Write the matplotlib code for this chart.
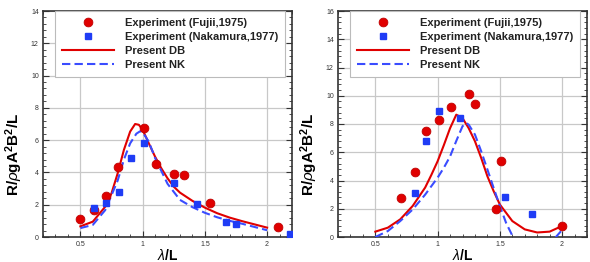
import numpy as np
import matplotlib
matplotlib.use("Agg")
import matplotlib.pyplot as plt
from matplotlib.ticker import MultipleLocator

plt.rcParams['font.family'] = ['Liberation Sans', 'DejaVu Sans']
plt.rcParams['mathtext.fontset'] = 'custom'
plt.rcParams['mathtext.rm'] = 'Liberation Sans:bold'
plt.rcParams['mathtext.it'] = 'Liberation Sans:italic'
plt.rcParams['mathtext.bf'] = 'Liberation Sans:bold'

# ---- left panel data ----
fujii_x_l = [0.50, 0.61, 0.71, 0.80, 1.01, 1.11, 1.25, 1.33, 1.54, 2.09]
fujii_y_l = [1.10, 1.65, 2.54, 4.34, 6.76, 4.50, 3.90, 3.82, 2.10, 0.62]
naka_x_l = [0.61, 0.71, 0.81, 0.91, 1.01, 1.25, 1.44, 1.67, 1.75, 2.18]
naka_y_l = [1.80, 2.13, 2.80, 4.90, 5.80, 3.33, 2.05, 0.93, 0.80, 0.20]
db_x_l = [0.50, 0.60, 0.70, 0.75, 0.80, 0.85, 0.90, 0.94, 0.97, 1.00, 1.05,
          1.10, 1.15, 1.20, 1.25, 1.30, 1.40, 1.50, 1.60, 1.70, 1.80, 1.90,
          2.00]
db_y_l = [0.66, 0.95, 1.88, 2.70, 3.95, 5.40, 6.53, 7.00, 6.95, 6.65, 5.80,
          4.98, 4.26, 3.64, 3.12, 2.75, 2.24, 1.82, 1.47, 1.20, 0.98, 0.78,
          0.58]
nk_x_l = [0.50, 0.60, 0.70, 0.80, 0.85, 0.90, 0.95, 0.98, 1.00, 1.05, 1.10,
          1.15, 1.20, 1.25, 1.30, 1.40, 1.50, 1.60, 1.70, 1.80, 1.90, 2.00]
nk_y_l = [0.55, 0.75, 1.67, 3.50, 4.80, 5.80, 6.40, 6.55, 6.50, 5.90, 4.90,
          4.10, 3.30, 2.80, 2.30, 1.85, 1.50, 1.22, 1.00, 0.82, 0.62, 0.42]

# ---- right panel data ----
fujii_x_r = [0.71, 0.82, 0.91, 1.01, 1.11, 1.25, 1.30, 1.51, 1.47, 2.00]
fujii_y_r = [2.78, 4.59, 7.53, 8.31, 9.22, 10.10, 9.39, 5.36, 1.98, 0.80]
naka_x_r = [0.82, 0.91, 1.01, 1.18, 1.54, 1.76]
naka_y_r = [3.08, 6.78, 8.94, 8.42, 2.80, 1.62]
db_x_r = [0.50, 0.60, 0.70, 0.80, 0.90, 0.95, 1.00, 1.05, 1.10, 1.15, 1.20,
          1.25, 1.30, 1.35, 1.40, 1.45, 1.50, 1.60, 1.70, 1.80, 1.90, 2.00]
db_y_r = [0.38, 0.66, 1.25, 2.20, 3.50, 4.40, 5.36, 6.50, 7.70, 8.66, 8.42,
          7.70, 6.78, 5.60, 4.30, 3.25, 2.30, 1.13, 0.54, 0.32, 0.38, 0.78]
nk_x_r = [0.50, 0.60, 0.70, 0.80, 0.90, 1.00, 1.05, 1.10, 1.15, 1.20, 1.23,
          1.25, 1.30, 1.35, 1.40, 1.45, 1.50, 1.55, 1.60, 1.65, 1.70, 1.80,
          1.90, 1.95, 2.00]
nk_y_r = [0.00, 0.42, 1.13, 1.95, 3.00, 4.20, 4.90, 5.70, 6.80, 7.84, 8.07,
          7.95, 7.25, 6.07, 4.78, 3.48, 2.20, 1.00, 0.10, -0.70, -1.30, -1.60,
          -0.80, 0.00, 0.50]

RED = "#e00000"
BLUE = "#1f3cf5"
LINE_BLUE = "#3a4cff"


def draw_panel(ax, fx, fy, nx, ny, dbx, dby, nkx, nky, ymax):
    """Draw one response panel in the Tecplot-like style."""
    ax.plot(dbx, dby, color=RED, lw=1.5, label="Present DB", zorder=3)
    ax.plot(nkx, nky, color=LINE_BLUE, lw=1.5, ls=(0, (4, 2)),
            label="Present NK", zorder=3)
    ax.plot(fx, fy, 'o', color=RED, ms=6.3, mec="#c00000", mew=0.6,
            ls='none', label="Experiment (Fujii,1975)", zorder=4)
    ax.plot(nx, ny, 's', color=BLUE, ms=4.8, mec=BLUE, ls='none',
            label="Experiment (Nakamura,1977)", zorder=4)

    ax.set_xlim(0.2, 2.2)
    ax.set_ylim(0, ymax)
    ax.xaxis.set_major_locator(MultipleLocator(0.5))
    ax.xaxis.set_minor_locator(MultipleLocator(0.1))
    ax.yaxis.set_major_locator(MultipleLocator(2))
    ax.yaxis.set_minor_locator(MultipleLocator(0.4))
    ax.set_xticks([0.5, 1, 1.5, 2])
    ax.set_xticklabels(["0.5", "1", "1.5", "2"])
    ax.tick_params(which='both', direction='in', top=True, right=True,
                   labelsize=5, labelcolor="#333333", color="#333333",
                   pad=3)
    ax.tick_params(which='major', length=4, width=0.8)
    ax.tick_params(which='minor', length=2, width=0.6)
    ax.grid(True, which='major', color="#c8c8c8", lw=0.9)
    ax.set_axisbelow(True)
    for sp in ax.spines.values():
        sp.set_color("#333333")
        sp.set_linewidth(1.2)

    ax.set_xlabel(r"$\lambda$/L", fontsize=10, fontweight='bold', labelpad=0)
    ax.set_ylabel(r"R/$\rho$gA$^2$B$^2$/L", fontsize=11,
                  fontweight='bold')
    ax.yaxis.set_label_coords(-0.072, 0.367)

    handles, labels = ax.get_legend_handles_labels()
    order = [2, 3, 0, 1]
    leg = ax.legend([handles[i] for i in order], [labels[i] for i in order],
                    loc='upper left', bbox_to_anchor=(0.048, 1.0),
                    prop={'size': 8, 'weight': 'bold'},
                    handlelength=4.7, handletextpad=1.0,
                    borderaxespad=0, borderpad=0.6, labelspacing=0.38,
                    fancybox=False, framealpha=1, edgecolor="#bbbbbb")
    leg.get_frame().set_linewidth(0.8)
    for t in leg.get_texts():
        t.set_color("#222222")


fig = plt.figure(figsize=(5.9, 2.62), dpi=100)
ax1 = fig.add_axes([43 / 590, 25 / 262, 249 / 590, 226 / 262])
ax2 = fig.add_axes([338 / 590, 25 / 262, 249 / 590, 226 / 262])

draw_panel(ax1, fujii_x_l, fujii_y_l, naka_x_l, naka_y_l,
           db_x_l, db_y_l, nk_x_l, nk_y_l, 14)
draw_panel(ax2, fujii_x_r, fujii_y_r, naka_x_r, naka_y_r,
           db_x_r, db_y_r, nk_x_r, nk_y_r, 16)

fig.savefig("out.png", dpi=100)
